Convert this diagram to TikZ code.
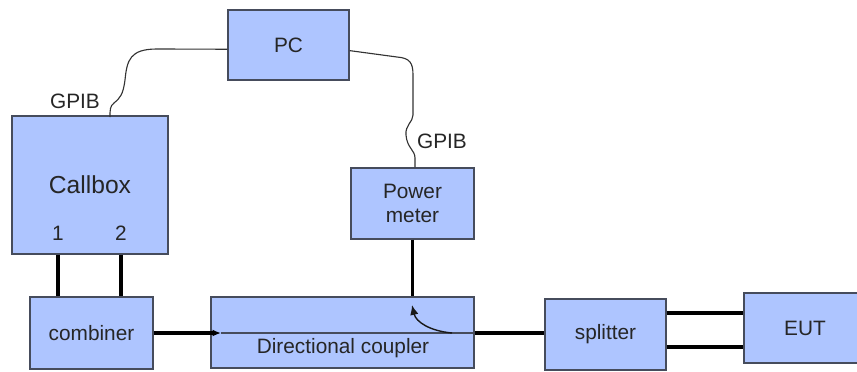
\documentclass[tikz,border=0pt]{standalone}
\usepackage{fontspec}
\setmainfont{Liberation Sans}
\usetikzlibrary{arrows.meta}
\definecolor{boxblue}{RGB}{174,197,255}
\definecolor{boxedge}{RGB}{70,76,92}

\begin{document}
\begin{tikzpicture}[x=0.025cm, y=-0.025cm,
      every node/.style={font=\fontsize{14.8}{17.5}\selectfont, text=black!85},
      blk/.style={draw=boxedge, fill=boxblue, line width=1pt, inner sep=0pt, align=center},
      rf/.style={line width=2.4pt, black},
      inner/.style={line width=0.9pt, boxedge},
      tapline/.style={line width=1pt, black!90},
      cable/.style={line width=0.8pt, black!80}
    ]
      \clip (0,0) rectangle (857,371);

      % instruments
      \node[blk, minimum width=3.025cm, minimum height=1.75cm] (pc) at (288.5,45) {PC};
      \node[blk, minimum width=3.9cm, minimum height=3.45cm, font=\fontsize{17.5}{20}\selectfont] (cb) at (90,185) {Callbox};
      \node (p1) at (58,233) {1};
      \node (p2) at (121,233) {2};
      \node[blk, minimum width=3.075cm, minimum height=1.775cm] (pm) at (412.5,203.5) {Power\\meter};

      % RF chain
      \node[blk, minimum width=3.075cm, minimum height=1.8cm] (comb) at (91.5,333) {combiner};
      \node[blk, minimum width=6.575cm, minimum height=1.775cm] (dc) at (342.5,332.5) {};
      \node (dct) at (343,348) {Directional coupler};
      \node[blk, minimum width=3.025cm, minimum height=1.775cm] (spl) at (605.5,334.5) {splitter};
      \node[blk, minimum width=3.05cm, minimum height=1.75cm] (eut) at (805,328) {EUT};

      % GPIB labels
      \node (g1) at (75,101) {GPIB};
      \node (g2) at (442,141) {GPIB};

      \coordinate (dcin) at (221,333);
      \coordinate (tap) at (412,305);

      % GPIB cables
      \draw[cable] ([yshift=-3pt]pc.west) -- (157,49) .. controls (130,49) and (127,60) .. (125,80)
        .. controls (123,95) and (120,98) .. (114,103) .. controls (110,106) and (110,110) .. (110,117);
      \draw[cable] ([yshift=-4pt]pc.east) -- (397,57) .. controls (410,58) and (413,63) .. (413,75) -- (413,115)
        .. controls (413,122) and (405,125) .. (406,135) .. controls (407,148) and (415,150) .. (415,158) -- (pm.north -| 415,0);

      % RF connections
      \draw[rf] (p1 |- cb.south) -- (p1 |- comb.north);
      \draw[rf] (p2 |- cb.south) -- (p2 |- comb.north);
      \draw[rf, -{Latex[length=6pt,width=5pt]}] (comb.east) -- (dcin);
      \draw[inner] (dcin) -- (dc.east |- dcin);
      \draw[rf] (dc.east |- dcin) -- (spl.west |- dcin);
      \draw[rf] (pm.south) -- (pm.south |- dc.north);
      \draw[tapline, -{Latex[length=7pt,width=6pt]}] (452,333) .. controls (430,331) and (416,322) .. (tap);
      \draw[rf] (spl.east |- 0,313) -- (eut.west |- 0,313);
      \draw[rf] (spl.east |- 0,347) -- (eut.west |- 0,347);
    \end{tikzpicture}
\end{document}
